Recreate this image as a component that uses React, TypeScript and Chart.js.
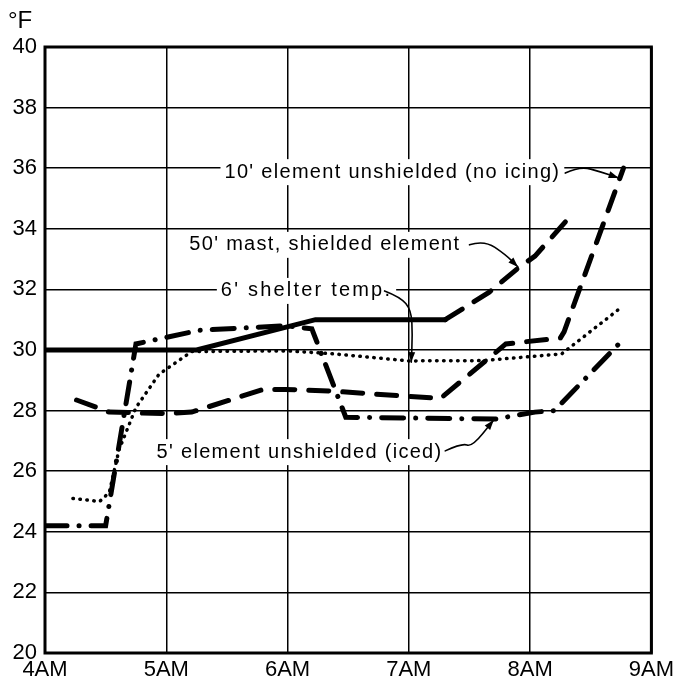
import React, { useEffect, useRef } from 'react';
import { Chart, registerables } from 'chart.js';

Chart.register(...registerables);

// ---- data ----
const xTickLabels = ['4AM', '5AM', '6AM', '7AM', '8AM', '9AM'];
const yUnitLabel = '°F';

// 50' mast, shielded element (solid, then dashed after ~7:18)
const mastTimes = [4.0, 5.25, 6.23, 7.3, 7.66, 7.9, 8.04, 8.34];
const mastTemps = [30.0, 30.0, 31.0, 31.0, 31.9, 32.7, 33.1, 34.45];
const mastDashFrom = 7.29;

// 10' element unshielded (no icing) (dashed)
const tenFtTimes = [4.26, 4.53, 5.0, 5.21, 5.8, 5.98, 6.34, 7.26, 7.8, 8.25, 8.28, 8.77];
const tenFtTemps = [28.35, 27.95, 27.9, 27.95, 28.7, 28.7, 28.65, 28.4, 30.2, 30.4, 30.6, 36.0];

// 6' shelter temp. (dotted)
const shelterTimes = [4.23, 4.45, 4.53, 4.61, 4.75, 4.94, 5.21, 6.0, 6.36, 7.0, 7.61, 8.26, 8.75];
const shelterTemps = [25.1, 25.0, 25.3, 26.7, 28.1, 29.2, 29.95, 29.97, 29.88, 29.64, 29.65, 29.87, 31.4];

// 5' element unshielded (iced) (dash-dot)
const fiveFtTimes = [4.0, 4.5, 4.75, 5.27, 5.98, 6.2, 6.48, 7.71, 8.04, 8.2, 8.78];
const fiveFtTemps = [24.2, 24.2, 30.2, 30.65, 30.8, 30.7, 27.78, 27.72, 27.95, 28.0, 30.4];

// annotations (text + curved arrow), positions in data units
const annotationTexts = [
  "10' element unshielded (no icing)",
  "50' mast, shielded element",
  "6' shelter temp.",
  "5' element unshielded (iced)",
];
const annotationX = [5.48, 5.19, 5.45, 4.92];
const annotationY = [35.87, 33.47, 31.95, 26.63];
const annotationSpacing = [1.3, 1.3, 2.2, 1.3];
const arrowXs = [
  [8.29, 8.41, 8.59, 8.73],
  [7.5, 7.62, 7.8, 7.9],
  [6.8, 6.93, 7.02, 7.03, 7.02],
  [7.3, 7.44, 7.52, 7.7],
];
const arrowYs = [
  [35.84, 36.07, 35.87, 35.68],
  [33.47, 33.63, 33.14, 32.74],
  [31.95, 31.75, 31.32, 30.5, 29.6],
  [26.67, 26.93, 26.8, 27.69],
];

const toPoints = (xs: number[], ys: number[]) => xs.map((x, i) => ({ x, y: ys[i] }));

const FONT = '"Liberation Sans", Arial, sans-serif';

const annotationPlugin = {
  id: 'annotations',
  beforeDatasetsDraw(chart: any) {
    const { ctx, scales, chartArea } = chart;
    const xs = scales.x;
    const ys = scales.y;
    ctx.save();
    ctx.font = `20px ${FONT}`;
    ctx.textBaseline = 'middle';
    ctx.textAlign = 'left';
    annotationTexts.forEach((t, i) => {
      (ctx as any).letterSpacing = `${annotationSpacing[i]}px`;
      const px = xs.getPixelForValue(annotationX[i]);
      const py = ys.getPixelForValue(annotationY[i]);
      const w = ctx.measureText(t).width;
      ctx.fillStyle = '#fff';
      ctx.fillRect(px - 4, py - 13, w + 8, 26);
      ctx.fillStyle = '#000';
      ctx.fillText(t, px, py);
    });
    ctx.strokeStyle = '#000';
    ctx.fillStyle = '#000';
    ctx.lineWidth = 1.6;
    ctx.lineCap = 'round';
    arrowXs.forEach((axs, i) => {
      const pts = axs.map((x, j) => [xs.getPixelForValue(x), ys.getPixelForValue(arrowYs[i][j])]);
      ctx.beginPath();
      ctx.moveTo(pts[0][0], pts[0][1]);
      for (let j = 1; j < pts.length - 1; j++) {
        const mx = (pts[j][0] + pts[j + 1][0]) / 2;
        const my = (pts[j][1] + pts[j + 1][1]) / 2;
        ctx.quadraticCurveTo(pts[j][0], pts[j][1], mx, my);
      }
      const last = pts[pts.length - 1];
      ctx.lineTo(last[0], last[1]);
      ctx.stroke();
      const prev = pts[pts.length - 2];
      const ang = Math.atan2(last[1] - prev[1], last[0] - prev[0]);
      const L = 10, W = 3.5;
      ctx.beginPath();
      ctx.moveTo(last[0], last[1]);
      ctx.lineTo(last[0] - L * Math.cos(ang) + W * Math.sin(ang), last[1] - L * Math.sin(ang) - W * Math.cos(ang));
      ctx.lineTo(last[0] - L * Math.cos(ang) - W * Math.sin(ang), last[1] - L * Math.sin(ang) + W * Math.cos(ang));
      ctx.closePath();
      ctx.fill();
    });
    ctx.lineWidth = 3;
    ctx.strokeStyle = '#000';
    ctx.strokeRect(chartArea.left, chartArea.top, chartArea.right - chartArea.left, chartArea.bottom - chartArea.top);
    (ctx as any).letterSpacing = '0px';
    ctx.font = `24px ${FONT}`;
    ctx.textAlign = 'left';
    ctx.textBaseline = 'middle';
    ctx.fillText(yUnitLabel, 8, 21);
    ctx.restore();
  },
};

export default function App() {
  const ref = useRef<HTMLCanvasElement | null>(null);
  useEffect(() => {
    if (!ref.current) return;
    const chart = new Chart(ref.current, {
      type: 'line',
      data: {
        datasets: [
          {
            label: "50' mast, shielded element",
            data: toPoints(mastTimes, mastTemps),
            borderColor: '#000',
            borderWidth: 5,
            pointRadius: 0,
            borderCapStyle: 'round',
            segment: {
              borderDash: (c: any) => (c.p0.parsed.x >= mastDashFrom ? [20, 14] : undefined),
            },
          },
          {
            label: "10' element unshielded (no icing)",
            data: toPoints(tenFtTimes, tenFtTemps),
            borderColor: '#000',
            borderWidth: 5,
            pointRadius: 0,
            borderCapStyle: 'round',
            borderDash: [20, 14],
          },
          {
            label: "6' shelter temp.",
            data: toPoints(shelterTimes, shelterTemps),
            borderColor: '#000',
            borderWidth: 3.5,
            pointRadius: 0,
            borderCapStyle: 'round',
            borderDash: [0.5, 6.5],
          },
          {
            label: "5' element unshielded (iced)",
            data: toPoints(fiveFtTimes, fiveFtTemps),
            borderColor: '#000',
            borderWidth: 5,
            pointRadius: 0,
            borderCapStyle: 'round',
            borderDash: [22, 12, 0.1, 12],
          },
        ],
      },
      options: {
        animation: false,
        responsive: false,
        parsing: false as any,
        layout: { padding: { top: 47, right: 22, left: 0, bottom: 0 } },
        plugins: { legend: { display: false }, tooltip: { enabled: false } },
        scales: {
          x: {
            type: 'linear',
            min: 4,
            max: 9,
            grid: { color: '#000', lineWidth: 1.5, drawTicks: false },
            border: { display: false },
            ticks: {
              stepSize: 1,
              color: '#000',
              padding: 4,
              maxRotation: 0,
              font: { family: FONT, size: 22 },
              callback: (v: any) => xTickLabels[Math.round(Number(v) - 4)] ?? '',
            },
            afterFit: (s: any) => {
              s.height = 28;
            },
          },
          y: {
            type: 'linear',
            min: 20,
            max: 40,
            grid: { color: '#000', lineWidth: 1.5, drawTicks: false },
            border: { display: false },
            ticks: {
              stepSize: 2,
              color: '#000',
              padding: 8,
              font: { family: FONT, size: 22 },
            },
            afterFit: (s: any) => {
              s.width = 45;
            },
          },
        },
      } as any,
      plugins: [annotationPlugin],
    });
    return () => chart.destroy();
  }, []);
  return (
    <div style={{ position: 'fixed', left: 0, top: 0, width: 678, height: 681, background: '#fff' }}>
      <canvas ref={ref} width={678} height={681} />
    </div>
  );
}
